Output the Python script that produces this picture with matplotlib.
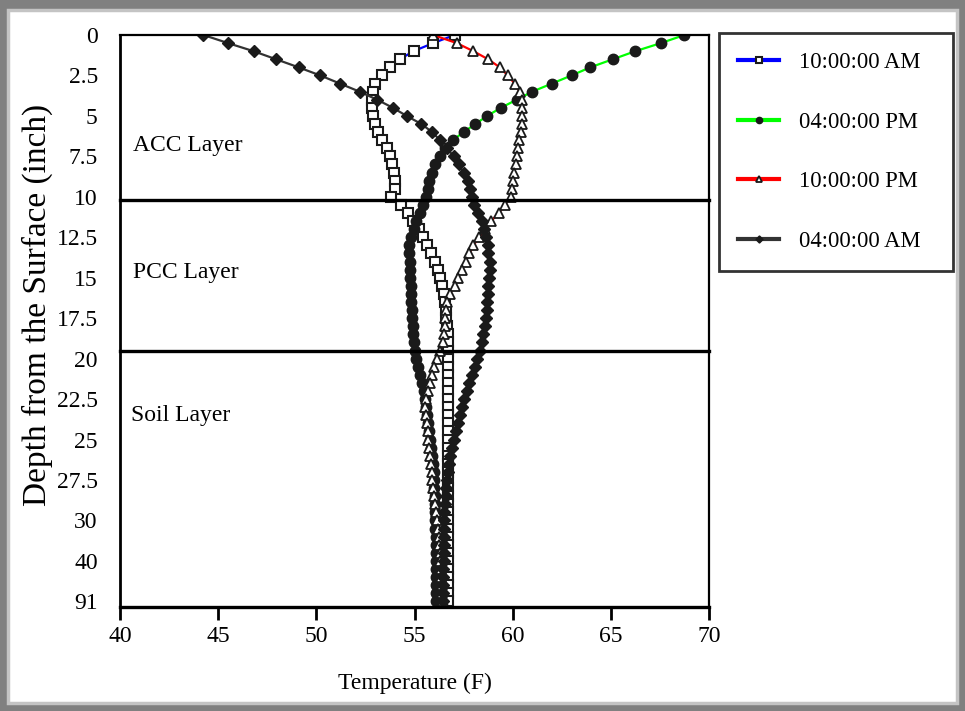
import numpy as np
import matplotlib
matplotlib.use("Agg")
import matplotlib.pyplot as plt
from matplotlib.patches import Rectangle

plt.rcParams['font.family'] = ['Liberation Serif', 'DejaVu Serif']

# depth labels shown on the (category-like) y axis, one every 5 readings
depth_labels = ['0', '2.5', '5', '7.5', '10', '12.5', '15', '17.5', '20',
                '22.5', '25', '27.5', '30', '40', '91']
series_names = ['10:00:00 AM', '04:00:00 PM', '10:00:00 PM', '04:00:00 AM']

# temperature (F) per reading, top to bottom
temp_10am = [57.05, 55.95, 54.95, 54.25, 53.75, 53.35, 53.0, 52.9, 52.85, 52.85,
             52.9, 53.0, 53.15, 53.35, 53.6, 53.75, 53.85, 53.95, 54.0, 54.0,
             53.8, 54.3, 54.65, 54.9, 55.25, 55.45, 55.65, 55.85, 56.05, 56.2,
             56.3, 56.4, 56.5, 56.55, 56.6, 56.6, 56.65, 56.7, 56.7, 56.7,
             56.7, 56.7, 56.7, 56.7, 56.7, 56.7, 56.7, 56.7, 56.7, 56.7,
             56.7, 56.7, 56.7, 56.7, 56.7, 56.7, 56.7, 56.7, 56.7, 56.7,
             56.7, 56.7, 56.7, 56.7, 56.7, 56.7, 56.7, 56.7, 56.7, 56.7, 56.7]
temp_4pm = [68.75, 67.55, 66.25, 65.1, 63.95, 63.0, 62.0, 61.0, 60.2, 59.4,
            58.7, 58.1, 57.5, 56.95, 56.55, 56.3, 56.05, 55.9, 55.75, 55.7,
            55.6, 55.45, 55.3, 55.1, 54.95, 54.8, 54.7, 54.7, 54.75, 54.75,
            54.75, 54.8, 54.8, 54.8, 54.85, 54.85, 54.9, 54.9, 54.95, 55.0,
            55.1, 55.2, 55.3, 55.4, 55.5, 55.55, 55.6, 55.65, 55.7, 55.75,
            55.8, 55.85, 55.9, 55.95, 56.0, 56.0, 56.0, 56.05, 56.05, 56.05,
            56.05, 56.05, 56.1, 56.1, 56.1, 56.1, 56.1, 56.1, 56.1, 56.1, 56.1]
temp_10pm = [55.95, 57.15, 58.0, 58.75, 59.35, 59.75, 60.1, 60.35, 60.45, 60.5,
             60.5, 60.45, 60.4, 60.3, 60.25, 60.2, 60.15, 60.05, 60.0, 59.95,
             59.9, 59.6, 59.3, 58.9, 58.6, 58.3, 58.0, 57.8, 57.6, 57.4,
             57.2, 57.05, 56.8, 56.65, 56.6, 56.55, 56.55, 56.5, 56.45, 56.3,
             56.15, 56.0, 55.9, 55.8, 55.7, 55.6, 55.55, 55.6, 55.65, 55.7,
             55.7, 55.75, 55.8, 55.85, 55.9, 55.9, 55.95, 56.0, 56.05, 56.1,
             56.15, 56.2, 56.25, 56.25, 56.3, 56.3, 56.35, 56.35, 56.4, 56.4, 56.45]
temp_4am = [44.25, 45.5, 46.8, 47.95, 49.1, 50.2, 51.2, 52.2, 53.1, 53.9,
            54.6, 55.35, 55.9, 56.3, 56.65, 57.0, 57.25, 57.5, 57.7, 57.85,
            57.95, 58.05, 58.25, 58.45, 58.55, 58.65, 58.75, 58.75, 58.85, 58.85,
            58.8, 58.75, 58.75, 58.7, 58.7, 58.65, 58.6, 58.5, 58.45, 58.35,
            58.2, 58.1, 57.95, 57.8, 57.65, 57.5, 57.4, 57.3, 57.2, 57.1,
            57.0, 56.9, 56.8, 56.75, 56.7, 56.65, 56.6, 56.6, 56.55, 56.5,
            56.5, 56.5, 56.5, 56.5, 56.5, 56.5, 56.45, 56.45, 56.45, 56.45, 56.45]

layer_names = ['ACC Layer', 'PCC Layer', 'Soil Layer']
layer_bounds = [20.4, 39.0]   # reading index of ACC/PCC and PCC/soil interfaces

depth = np.arange(len(temp_10am))

fig = plt.figure(figsize=(9.65, 7.11), dpi=100)
fig.patch.set_facecolor('#808080')
fig.patches.append(Rectangle((8/965, 8/711), 949/965, 693/711, transform=fig.transFigure,
                             facecolor='white', edgecolor='#c4c4c4', linewidth=2.5, zorder=-5))

ax = fig.add_axes([120/965, 1 - 607/711, 589/965, 572/711])
ax.set_facecolor('white')

ax.plot(temp_10am, depth, color='#0000ff', lw=1.6, marker='s', ms=6.5,
        mfc='white', mec='#1a1a1a', mew=1.5, label=series_names[0])
ax.plot(temp_4pm, depth, color='#00ff00', lw=1.6, marker='o', ms=7.5,
        mfc='#1a1a1a', mec='#1a1a1a', label=series_names[1])
ax.plot(temp_10pm, depth, color='#ff0000', lw=1.6, marker='^', ms=6.5,
        mfc='white', mec='#1a1a1a', mew=1.3, label=series_names[2])
ax.plot(temp_4am, depth, color='#333333', lw=1.6, marker='D', ms=6,
        mfc='#1a1a1a', mec='#1a1a1a', label=series_names[3])

for b in layer_bounds:
    ax.axhline(b, color='black', lw=2.4, clip_on=False, zorder=5)

ax.text(40.65, 13.6, layer_names[0], fontsize=17, va='center', ha='left')
ax.text(40.65, 29.3, layer_names[1], fontsize=17, va='center', ha='left')
ax.text(40.55, 47.0, layer_names[2], fontsize=17, va='center', ha='left')

ax.set_xlim(40, 70)
ax.set_ylim(70.7, 0)
ax.set_xticks(np.arange(40, 71, 5))
ax.set_yticks(np.arange(0, 71, 5))
ax.set_yticklabels(depth_labels)
ax.tick_params(axis='x', direction='out', length=9, width=2, labelsize=17, pad=5)
ax.tick_params(axis='y', length=0, labelsize=17, pad=16)
for s in ax.spines.values():
    s.set_linewidth(1.6)
ax.spines['bottom'].set_linewidth(2.4)
ax.spines['left'].set_linewidth(2.0)

ax.set_xlabel('Temperature (F)', fontsize=17, labelpad=18)
ax.set_ylabel('Depth from the Surface (inch)', fontsize=24)
ax.yaxis.set_label_coords(-0.113, 0.528)

leg = ax.legend(loc='upper left', bbox_to_anchor=(719/965, 1 - 270/711, 234/965, 237/711),
                bbox_transform=fig.transFigure, mode='expand', borderaxespad=0,
                fontsize=16.3, frameon=True, fancybox=False, edgecolor='black',
                handlelength=1.8, handletextpad=0.9, labelspacing=1.7,
                borderpad=0.85, markerscale=0.6)
leg.get_frame().set_linewidth(2)
for line in leg.get_lines():
    line.set_linewidth(3)

fig.savefig('out.png', dpi=100, facecolor=fig.get_facecolor())
